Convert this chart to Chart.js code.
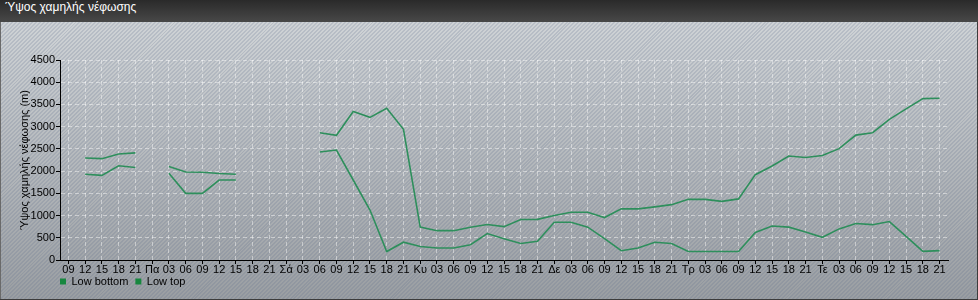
<!DOCTYPE html>
<html>
<head>
<meta charset="utf-8">
<script src="https://cdn.jsdelivr.net/npm/chart.js@4.4.0/dist/chart.umd.min.js"></script>
<style>
html, body { margin: 0; padding: 0; background: #fff; }
#panel {
    position: relative; width: 978px; height: 300px; overflow: hidden;
    background:
        repeating-linear-gradient(135deg, rgba(255,255,255,0) 0 1.4px, rgba(95,110,140,0.20) 1.4px 2.8px),
        linear-gradient(#d3d7da, #9a9ea2);
    box-shadow: inset -1px -1px 0 #3c3c3c, inset 1px 0 0 #6a6a6a;
}
#head {
    height: 22px; line-height: 22px; padding-left: 5px;
    background: linear-gradient(#2a2a2a, #484848);
    color: #fff; font: 12px "Liberation Sans", Arial, sans-serif;
}
#wrap { position: absolute; left: 0; top: 22px; }
</style>
</head>
<body>
<div id="panel">
    <div id="head">Ύψος χαμηλής νέφωσης</div>
    <div id="wrap"><canvas id="cloud" width="978" height="286"></canvas></div>
</div>
<script>
// hour labels, day names stand in for 00
const hours = ['09','12','15','18','21','Πα','03','06','09','12','15','18','21','Σά','03','06','09','12','15','18','21',
    'Κυ','03','06','09','12','15','18','21','Δε','03','06','09','12','15','18','21','Τρ','03','06','09','12','15','18','21',
    'Τε','03','06','09','12','15','18','21'];

// cloud base, metres (null = no low cloud)
const lowBottom = [null, 1930, 1905, 2120, 2080, null, 1950, 1500, 1500, 1800, 1800, null, null, null, null,
    2430, 2475, 1800, 1125, 190, 400, 305, 270, 270, 345, 595, 480, 370, 420, 850, 850, 740, 480, 210, 270,
    400, 370, 190, 190, 190, 190, 620, 765, 740, 630, 510, 700, 820, 795, 865, 530, 195, 210];

// cloud top, metres
const lowTop = [null, 2295, 2280, 2385, 2410, null, 2105, 1980, 1975, 1945, 1930, null, null, null, null,
    2865, 2805, 3340, 3210, 3415, 2940, 740, 660, 660, 735, 800, 750, 910, 915, 1000, 1075, 1075, 955, 1150, 1150,
    1195, 1245, 1365, 1365, 1320, 1375, 1920, 2115, 2340, 2305, 2350, 2505, 2810, 2865, 3165, 3400, 3630, 3640];

const yMax = 4500;
const yStep = 500;

const lineGreen = '#2e8f5c';
const boxGreen = '#17873f';
const gridWhite = 'rgba(255,255,255,0.45)';

Chart.defaults.font.family = '"Liberation Sans", Arial, sans-serif';
Chart.defaults.font.size = 11;
Chart.defaults.color = '#000';

// pull the legend up and to the left edge of the plot
const legendShift = {
    id: 'legendShift',
    afterLayout(chart) {
        const lg = chart.legend;
        if (!lg) return;
        const h = lg.bottom - lg.top;
        lg.left = chart.chartArea.left - 7;
        lg.top = chart.chartArea.bottom + 9;
        lg.bottom = lg.top + h;
    }
};

const ctx = document.getElementById('cloud').getContext('2d');
const chart = new Chart(ctx, {
    type: 'line',
    data: {
        labels: hours,
        datasets: [
            {
                label: 'Low bottom',
                data: lowBottom,
                borderColor: lineGreen,
                backgroundColor: boxGreen,
                borderWidth: 1.6,
                pointRadius: 0,
                spanGaps: false,
                tension: 0
            },
            {
                label: 'Low top',
                data: lowTop,
                borderColor: lineGreen,
                backgroundColor: boxGreen,
                borderWidth: 1.6,
                pointRadius: 0,
                spanGaps: false,
                tension: 0
            }
        ]
    },
    options: {
        responsive: false,
        animation: false,
        layout: { padding: { left: 0, right: 30, top: 38, bottom: 0 } },
        scales: {
            x: {
                offset: true,
                grid: { color: gridWhite, tickColor: '#000', tickLength: 4, offset: false },
                border: { color: '#000', width: 1, dash: [4, 3] },
                ticks: { autoSkip: false, maxRotation: 0, padding: -1 },
                afterFit: function(scale) { scale.height = 20; }
            },
            y: {
                min: 0,
                max: yMax,
                grid: { color: gridWhite, tickColor: '#000', tickLength: 4 },
                border: { color: '#000', width: 1, dash: [4, 3] },
                ticks: {
                    stepSize: yStep,
                    padding: 1,
                    callback: function(value) { return String(value); }
                },
                title: {
                    display: true,
                    text: 'Ύψος χαμηλής νέφωσης (m)',
                    padding: { top: 18, bottom: 0 }
                },
                afterFit: function(scale) { scale.width = 60; }
            }
        },
        plugins: {
            legend: {
                position: 'bottom',
                align: 'start',
                fullSize: false,
                labels: {
                    boxWidth: 6,
                    boxHeight: 6,
                    padding: 7,
                    generateLabels: function(c) {
                        return Chart.defaults.plugins.legend.labels.generateLabels(c).map(function(item) {
                            item.lineWidth = 0;
                            item.fillStyle = boxGreen;
                            return item;
                        });
                    }
                }
            },
            tooltip: { enabled: false }
        }
    },
    plugins: [legendShift]
});
</script>
</body>
</html>
